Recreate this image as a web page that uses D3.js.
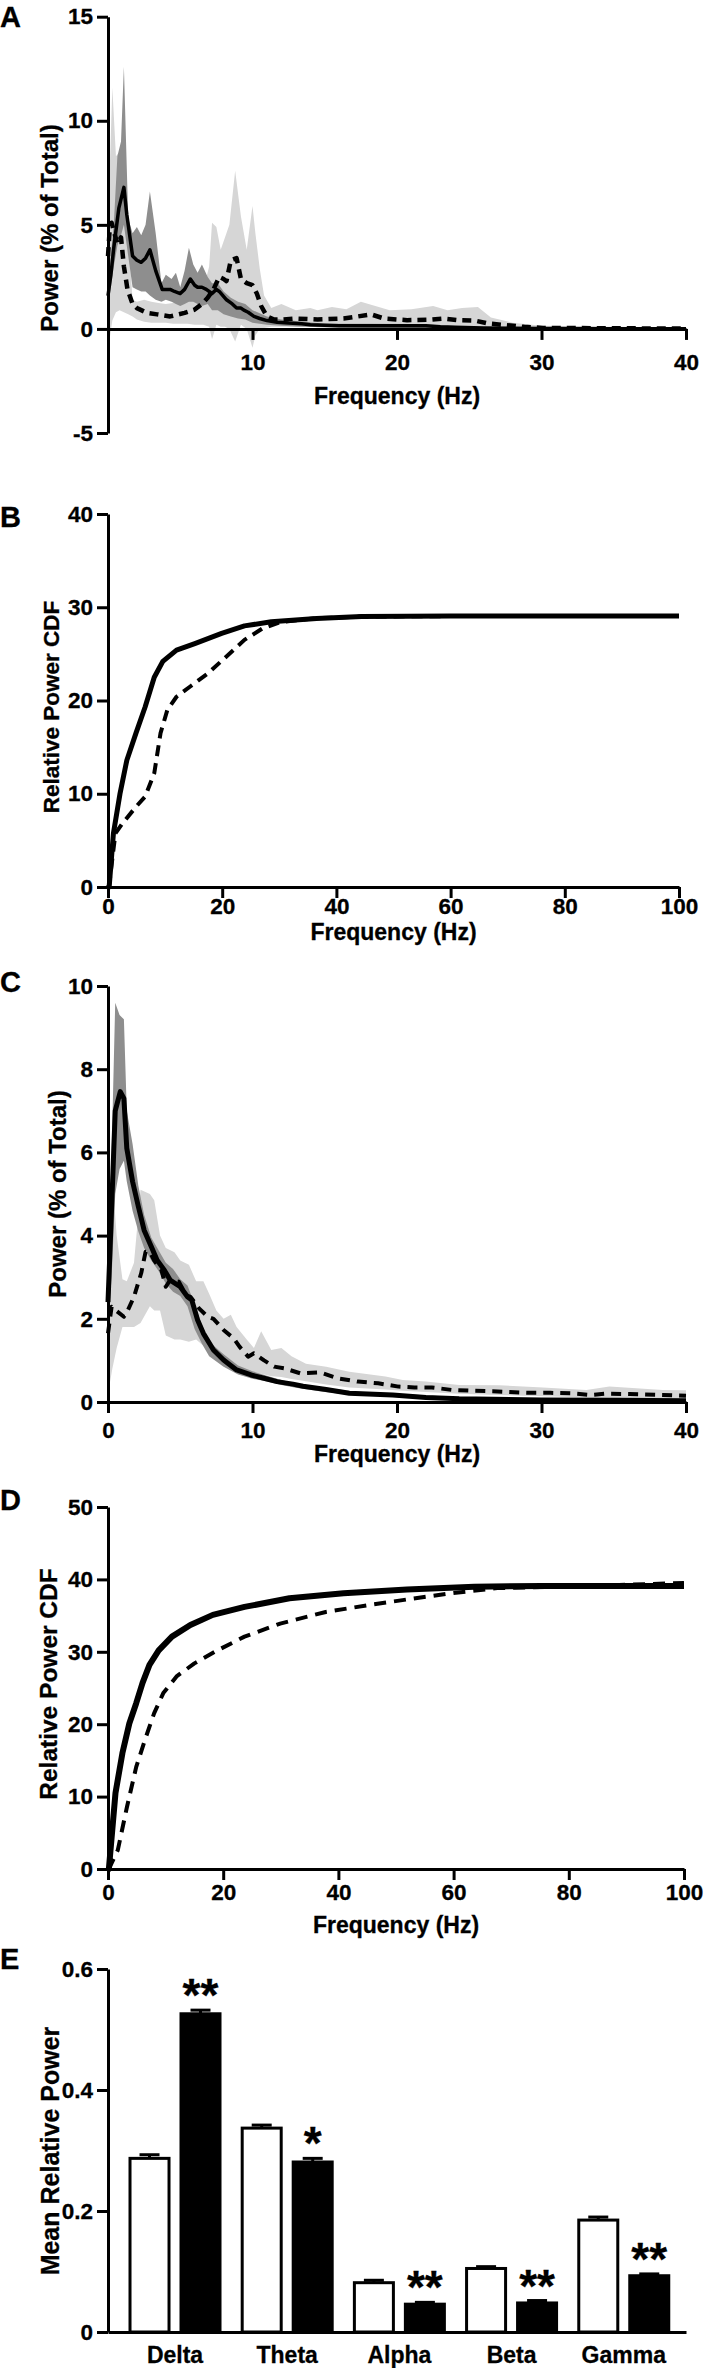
<!DOCTYPE html>
<html>
<head>
<meta charset="utf-8">
<script src="https://cdn.jsdelivr.net/npm/d3@7"></script>
<style>
  body { margin: 0; background: #fff; }
  svg text { font-family: "Liberation Sans", Arial, Helvetica, sans-serif; font-weight: bold; fill: #000; stroke: #000; stroke-width: 0.3px; }
</style>
</head>
<body>
<svg id="fig" width="709" height="2368"></svg>
<script>
// ---- Panel A: power spectrum, [Hz, % of total] ----
var aSolid = [[0,1.6],[0.2,2.6],[0.4,3.9],[0.75,5.8],[1.1,6.8],[1.3,5.5],[1.7,3.5],[2.0,3.3],[2.3,3.2],[2.6,3.4],[2.9,3.8],[3.3,2.8],
  [3.75,1.9],[4.3,1.9],[4.6,1.8],[5.0,1.7],[5.3,1.9],[5.7,2.4],[6.0,2.1],[6.2,2.0],[6.5,2.0],[6.8,1.9],[7.2,1.7],[7.5,1.9],[7.7,1.8],
  [8.2,1.4],[8.6,1.2],[8.9,1.0],[9.2,1.0],[9.4,0.9],[9.7,0.8],[10.1,0.6],[10.5,0.5],[11.0,0.4],[11.7,0.32],[12.5,0.28],[13.4,0.25],
  [14,0.2],[16,0.15],[18,0.15],[20,0.15],[22,0.15],[23,0.1],[24,0.08],[26,0.05],[28,0.03],[30,0.02],[35,0.01],[40,0.01]];
var aDashed = [[0,3.5],[0.1,4.6],[0.25,5.1],[0.4,4.7],[0.65,4.1],[0.9,4.4],[1.1,3.0],[1.35,1.9],[1.7,1.2],[2.0,1.0],[2.7,0.77],
  [3.4,0.7],[4.3,0.6],[5.3,0.77],[6.0,0.93],[6.5,1.2],[6.9,1.5],[7.3,1.9],[7.7,2.5],[8.0,2.4],[8.2,2.3],[8.5,3.3],[8.9,3.4],[9.2,2.4],
  [9.6,2.2],[10.0,2.1],[10.3,1.7],[10.6,1.1],[11.0,0.6],[11.5,0.45],[12,0.45],[13,0.5],[14.5,0.45],[16.3,0.5],[17.3,0.6],[18.2,0.7],
  [19.1,0.5],[20.7,0.42],[22.3,0.45],[23.2,0.5],[24.2,0.42],[25.4,0.4],[26.3,0.26],[27.6,0.18],[28.8,0.1],[30.1,0.05],[35,0.03],[40,0.02]];
// error bands: [Hz, low, high]
var aBandDark = [[0,1.0,2.2],[0.4,3.0,5.0],[0.65,4.0,8.3],[0.9,4.5,9.0],[1.1,5.0,12.6],[1.4,3.5,5.3],[1.7,2.0,4.6],[2.0,1.9,4.9],
  [2.3,1.8,4.5],[2.6,1.8,5.0],[2.9,1.6,6.6],[3.3,1.4,4.6],[3.7,1.3,2.2],[4.0,1.4,2.6],[4.4,1.3,2.4],[4.7,1.2,2.7],[5.0,1.1,2.0],
  [5.3,1.2,2.8],[5.6,1.3,3.9],[5.9,1.3,3.1],[6.2,1.2,2.7],[6.5,1.1,3.1],[6.9,1.2,2.5],[7.2,0.9,2.2],[7.6,0.9,2.2],[8.0,0.7,1.8],
  [8.5,0.6,1.5],[9.0,0.5,1.3],[9.5,0.45,1.2],[10,0.3,0.9],[10.5,0.25,0.75],[11,0.2,0.6],[12,0.15,0.45],[13,0.12,0.38],[15,0.08,0.25],
  [18,0.06,0.25],[21,0.06,0.24],[23,0.04,0.18],[26,0.02,0.08],[30,0,0.04],[40,0,0.02]];
var aBandLight = [[0,-1.0,5.0],[0.3,0.4,11.6],[0.55,0.8,8.3],[0.8,0.9,8.5],[1.1,0.8,6.0],[1.4,0.7,4.5],[1.7,0.6,1.4],[2.0,0.45,1.3],
  [2.5,0.35,1.4],[3.0,0.3,1.3],[3.5,0.3,1.25],[4.0,0.3,1.2],[4.5,0.25,1.25],[5.0,0.25,1.3],[5.5,0.25,1.35],[6.0,0.2,1.5],[6.6,0.2,1.9],
  [7.0,0.1,3.0],[7.2,-0.5,5.1],[7.5,0.2,4.9],[7.8,0.1,3.8],[8.1,0.1,4.4],[8.4,0.0,5.0],[8.8,-0.6,7.6],[9.2,0.2,5.4],[9.6,0.0,3.8],
  [10.0,-0.9,5.9],[10.2,-0.3,4.6],[10.5,0.0,2.9],[10.8,0.05,1.6],[11.3,0.1,1.0],[12,0.1,1.2],[13,0.1,0.9],[14,0.1,1.0],[14.5,0.08,0.9],
  [15.5,0.08,1.05],[16.5,0.08,0.95],[17.5,0.07,1.3],[18.5,0.06,1.1],[19.5,0.05,0.9],[21,0.05,0.95],[22.5,0.04,1.1],[23.5,0.04,0.9],
  [24.5,0.03,1.0],[25.6,0.02,1.05],[26.5,0.02,0.55],[28,0.01,0.3],[30,0,0.15],[35,0,0.1],[40,0,0.08]];

// ---- Panel B: cumulative relative power ----
var bSolid = [[0,0],[0.2,0],[0.95,5.75],[2.1,10.0],[3.3,13.6],[4.9,16.5],[6.5,19.3],[8.1,22.5],[9.6,24.2],[12,25.4],[15.2,26.1],
  [19.9,27.2],[23.9,28.0],[28.6,28.45],[36.5,28.8],[44.4,29.0],[60,29.05],[80,29.05],[100,29.05]];
var bDashed = [[0,0],[0.2,0.2],[1.3,5.75],[2.5,6.8],[4.9,8.6],[6.5,9.7],[8.1,12.2],[9.2,16.5],[10.4,19.0],[12,20.4],[14.4,21.5],
  [17.5,22.9],[20.7,24.7],[23.9,26.5],[27,27.7],[30.2,28.4],[36,28.8],[44,29.0],[60,29.05],[80,29.05],[100,29.05]];

// ---- Panel C: power spectrum ----
var cSolid = [[0,2.4],[0.2,4.2],[0.5,7.0],[0.85,7.46],[1.1,7.3],[1.3,6.1],[1.7,5.3],[2.1,4.7],[2.5,4.13],[3.0,3.73],[3.4,3.41],
  [3.9,3.17],[4.3,2.93],[5.0,2.77],[5.5,2.53],[5.8,2.45],[6.2,1.97],[6.6,1.65],[7.3,1.25],[8.0,1.01],[8.9,0.77],[9.9,0.65],[10.8,0.57],
  [11.7,0.49],[12.8,0.43],[13.5,0.38],[15.1,0.3],[16.7,0.21],[19.7,0.17],[22,0.11],[24.3,0.08],[30,0.05],[35,0.04],[40,0.03]];
var cDashed = [[0,1.65],[0.25,2.29],[0.55,2.2],[1.1,2.05],[1.3,2.15],[1.8,2.53],[2.3,3.1],[2.6,3.61],[2.9,3.6],[3.2,3.4],[3.7,3.17],
  [4.0,2.77],[4.3,2.93],[4.9,2.89],[5.4,2.57],[5.7,2.53],[6.3,2.25],[6.9,2.05],[7.3,2.0],[8.0,1.73],[8.7,1.53],[9.1,1.33],[9.7,1.09],
  [10.1,1.17],[10.8,1.0],[11.5,0.85],[12.2,0.81],[13.3,0.69],[14.7,0.71],[15.9,0.57],[17.3,0.49],[18.7,0.45],[20.1,0.37],[21.2,0.35],
  [22.4,0.35],[23.8,0.29],[25.2,0.27],[26.6,0.26],[27.8,0.24],[29.2,0.22],[30.6,0.22],[32,0.21],[33.4,0.17],[34.5,0.2],[36.1,0.19],
  [38.4,0.17],[40,0.15]];
var cBandDark = [[0,1.8,3.0],[0.25,3.0,6.0],[0.5,5.0,9.6],[0.8,5.6,9.3],[1.1,5.8,9.2],[1.3,5.3,7.0],[1.7,4.6,6.2],[2.1,4.1,5.2],
  [2.5,3.7,4.5],[3.0,3.4,3.95],[3.5,3.15,3.65],[4.0,2.85,3.35],[4.5,2.65,3.2],[5.0,2.55,2.95],[5.5,2.3,2.8],[6.0,1.75,2.35],
  [6.5,1.4,1.85],[7.0,1.1,1.45],[8.0,0.85,1.15],[9.0,0.66,0.88],[10,0.56,0.74],[11,0.49,0.63],[12,0.41,0.53],[13,0.34,0.44],
  [15,0.24,0.34],[17,0.16,0.25],[20,0.12,0.2],[25,0.05,0.1],[30,0.03,0.07],[40,0.01,0.05]];
var cBandLight = [[0,0.2,4.0],[0.3,0.8,5.4],[0.6,1.3,4.0],[1.0,1.8,2.95],[1.3,1.8,2.9],[1.8,1.8,3.35],[2.25,1.9,5.1],[2.9,2.3,5.0],
  [3.2,2.2,4.85],[3.6,2.2,4.0],[4.0,1.6,3.7],[4.6,1.5,3.6],[5.0,1.5,3.4],[5.6,1.45,3.3],[6.1,1.5,2.9],[6.6,1.35,2.9],[7.0,1.25,2.6],
  [7.5,1.1,2.2],[8.0,1.0,2.0],[8.5,0.9,2.1],[8.9,0.82,1.8],[9.6,0.75,1.5],[10.1,0.72,1.3],[10.6,0.68,1.7],[11.3,0.62,1.25],[12,0.6,1.3],
  [12.7,0.55,1.1],[13.7,0.5,0.92],[15.1,0.42,0.85],[16.7,0.35,0.73],[19.2,0.3,0.61],[20.4,0.27,0.53],[22,0.24,0.49],[24.3,0.2,0.41],
  [27.1,0.17,0.4],[30.1,0.14,0.35],[33.1,0.11,0.29],[34.7,0.1,0.37],[38.4,0.07,0.29],[40,0.05,0.28]];

// ---- Panel D: cumulative relative power ----
var dSolid = [[0,0],[0.15,0],[1.3,10.5],[2.5,16.0],[3.7,20.1],[4.9,22.9],[6.0,25.7],[7.2,28.2],[8.8,30.2],[11.1,32.1],[14.3,33.7],
  [18.2,35.1],[23.7,36.2],[31.5,37.4],[40.9,38.1],[51.9,38.6],[63.6,39.0],[75.4,39.1],[100,39.1]];
var dDashed = [[0,0],[0.15,0],[1.7,2.6],[3.3,8.6],[4.9,14.1],[6.4,17.8],[8.0,21.5],[9.6,24.3],[11.9,26.6],[15,28.4],[19,30.2],
  [23.7,32.1],[29.9,33.9],[37.8,35.5],[45.6,36.5],[53.4,37.4],[59.7,38.1],[67.6,38.8],[83.2,39.1],[100,39.5]];

// ---- Panel E: mean relative power per band ----
var bandNames = ['Delta', 'Theta', 'Alpha', 'Beta', 'Gamma'];
var openMean = [0.287, 0.337, 0.0815, 0.105, 0.185];
var openSem = [0.006, 0.005, 0.004, 0.003, 0.005];
var filledMean = [0.526, 0.281, 0.046, 0.048, 0.093];
var filledSem = [0.006, 0.006, 0.003, 0.004, 0.003];
var stars = ['**', '*', '**', '**', '**'];

var svg = d3.select('#fig');
var darkGrey = '#8e8e8e', lightGrey = '#d6d6d6';

function styleAxis(g, size) {
    g.attr('font-family', null).attr('font-size', size);
    g.select('.domain').attr('stroke', '#000').attr('stroke-width', 3);
    g.selectAll('.tick line').attr('stroke', '#000').attr('stroke-width', 3);
    g.selectAll('.tick text').attr('fill', '#000');
}

function panelLetter(txt, y) {
    svg.append('text').attr('x', 0).attr('y', y).attr('font-size', 29).text(txt);
}

function yTitle(txt, x, y, size) {
    svg.append('text')
       .attr('transform', 'translate(' + x + ',' + y + ') rotate(-90)')
       .attr('text-anchor', 'middle').attr('font-size', size).text(txt);
}

// Draws a frequency panel (bands, axes, mean lines)
function linePanel(o) {
    var x = d3.scaleLinear().domain(o.xDomain).range(o.xRange);
    var y = d3.scaleLinear().domain(o.yDomain).range(o.yRange);
    var g = svg.append('g');

    var area = d3.area().x((d) => x(d[0])).y0((d) => y(d[1])).y1((d) => y(d[2]));
    (o.bands || []).forEach((b) => {
        g.append('path').datum(b.data).attr('fill', b.color).attr('d', area);
    });

    var ax = g.append('g').attr('transform', 'translate(' + o.xRange[0] + ',0)')
        .call(d3.axisLeft(y).tickValues(o.yTicks).tickFormat((d) => String(d))
              .tickSize(11).tickSizeOuter(0).tickPadding(4));
    styleAxis(ax, 22.5);

    var bx = g.append('g').attr('transform', 'translate(0,' + y(0) + ')')
        .call(d3.axisBottom(x).tickValues(o.xTicks).tickFormat((d) => String(d))
              .tickSize(11).tickSizeOuter(0).tickPadding(o.xPad));
    styleAxis(bx, 22.5);

    var line = d3.line().x((d) => x(d[0])).y((d) => y(d[1]));
    o.lines.forEach((l) => {
        g.append('path').datum(l.data)
         .attr('fill', 'none').attr('stroke', '#000')
         .attr('stroke-width', l.width)
         .attr('stroke-dasharray', l.dash || null)
         .attr('stroke-linejoin', 'round')
         .attr('d', line);
    });

    svg.append('text').attr('x', (o.xRange[0] + o.xRange[1]) / 2).attr('y', o.xTitleY)
       .attr('text-anchor', 'middle').attr('font-size', 23).text('Frequency (Hz)');
}

// A
panelLetter('A', 27);
linePanel({
    xDomain: [0, 40], xRange: [108, 686], yDomain: [-5, 15], yRange: [433, 16.7],
    yTicks: [-5, 0, 5, 10, 15], xTicks: [10, 20, 30, 40], xPad: 14.5, xTitleY: 404,
    bands: [{data: aBandLight, color: lightGrey}, {data: aBandDark, color: darkGrey}],
    lines: [{data: aDashed, width: 4.5, dash: '9,6'}, {data: aSolid, width: 3.5}]
});
yTitle('Power (% of Total)', 58, 228, 24);

// B
panelLetter('B', 527);
linePanel({
    xDomain: [0, 100], xRange: [108, 679], yDomain: [0, 40], yRange: [887, 514],
    yTicks: [0, 10, 20, 30, 40], xTicks: [0, 20, 40, 60, 80, 100], xPad: 0, xTitleY: 940,
    lines: [{data: bDashed, width: 4, dash: '11,7'}, {data: bSolid, width: 5}]
});
yTitle('Relative Power CDF', 59, 707, 22.5);

// C
panelLetter('C', 992);
linePanel({
    xDomain: [0, 40], xRange: [108, 686], yDomain: [0, 10], yRange: [1402, 986],
    yTicks: [0, 2, 4, 6, 8, 10], xTicks: [0, 10, 20, 30, 40], xPad: 9.5, xTitleY: 1462,
    bands: [{data: cBandLight, color: lightGrey}, {data: cBandDark, color: darkGrey}],
    lines: [{data: cDashed, width: 4, dash: '10,7'}, {data: cSolid, width: 5}]
});
yTitle('Power (% of Total)', 66, 1194, 24);

// D
panelLetter('D', 1510);
linePanel({
    xDomain: [0, 100], xRange: [108, 684], yDomain: [0, 50], yRange: [1869, 1507],
    yTicks: [0, 10, 20, 30, 40, 50], xTicks: [0, 20, 40, 60, 80, 100], xPad: 4.5, xTitleY: 1933,
    lines: [{data: dDashed, width: 4, dash: '12,8'}, {data: dSolid, width: 6}]
});
yTitle('Relative Power CDF', 57, 1684, 24.5);

// E: grouped bars
panelLetter('E', 1969);
var xE = d3.scaleBand().domain(bandNames).range([108, 686]).paddingInner(0).paddingOuter(0.076).align(0.64);
var xSub = d3.scaleBand().domain(['open', 'filled']).range([0, xE.bandwidth()]).paddingInner(0.235).paddingOuter(0.2176);
var yE = d3.scaleLinear().domain([0, 0.6]).range([2332, 1969]);

var rows = [];
bandNames.forEach((name, i) => {
    rows.push({band: name, group: 'open', mean: openMean[i], sem: openSem[i]});
    rows.push({band: name, group: 'filled', mean: filledMean[i], sem: filledSem[i], star: stars[i]});
});

var gE = svg.append('g');
var cx = (d) => xE(d.band) + xSub(d.group) + xSub.bandwidth() / 2;

// error bars (drawn first, bar tops sit over them)
gE.selectAll('line.err').data(rows).enter().append('line')
  .attr('x1', cx).attr('x2', cx)
  .attr('y1', (d) => yE(d.mean)).attr('y2', (d) => yE(d.mean + d.sem))
  .attr('stroke', '#000').attr('stroke-width', 3);
gE.selectAll('line.cap').data(rows).enter().append('line')
  .attr('x1', (d) => cx(d) - 10).attr('x2', (d) => cx(d) + 10)
  .attr('y1', (d) => yE(d.mean + d.sem)).attr('y2', (d) => yE(d.mean + d.sem))
  .attr('stroke', '#000').attr('stroke-width', 3);

gE.selectAll('rect').data(rows).enter().append('rect')
  .attr('x', (d) => xE(d.band) + xSub(d.group))
  .attr('y', (d) => yE(d.mean))
  .attr('width', xSub.bandwidth())
  .attr('height', (d) => yE(0) - yE(d.mean))
  .attr('fill', (d) => d.group === 'open' ? '#fff' : '#000')
  .attr('stroke', '#000').attr('stroke-width', 3);

gE.selectAll('text.star').data(rows.filter((d) => d.star)).enter().append('text')
  .attr('x', cx).attr('y', (d) => yE(d.mean + d.sem) + 1)
  .attr('text-anchor', 'middle').attr('font-size', 46).text((d) => d.star);

var eyAxis = gE.append('g').attr('transform', 'translate(108,0)')
    .call(d3.axisLeft(yE).tickValues([0, 0.2, 0.4, 0.6])
          .tickFormat((d) => d === 0 ? '0' : d3.format('.1f')(d))
          .tickSize(11).tickSizeOuter(0).tickPadding(4));
styleAxis(eyAxis, 22.5);

var exAxis = gE.append('g').attr('transform', 'translate(0,' + yE(0) + ')')
    .call(d3.axisBottom(xE).tickSize(0).tickSizeOuter(0).tickPadding(14.5));
styleAxis(exAxis, 23);

yTitle('Mean Relative Power', 59, 2151, 25);
</script>
</body>
</html>
